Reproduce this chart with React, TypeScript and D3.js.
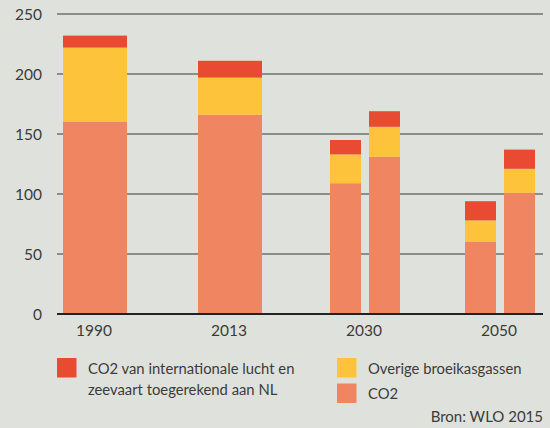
import React, { useRef, useEffect } from 'react';
import * as d3 from 'd3';

// years on the x axis
const years = ['1990', '2013', '2030', '2050'];
// one entry per bar (2030 and 2050 have two scenarios)
const barYear = ['1990', '2013', '2030', '2030', '2050', '2050'];
const barSlot = [0, 0, 0, 1, 0, 1];
// stacked values (Mton CO2-eq)
const co2 = [160, 166, 109, 131, 60, 101];
const overige = [62, 31, 24, 25, 18, 20];
const internationaal = [10, 14, 12, 13, 16, 16];
const yTicks = [0, 50, 100, 150, 200, 250];

const keys = ['co2', 'overige', 'internationaal'];
const colors: Record<string, string> = {
  co2: '#f08562',
  overige: '#fdc33a',
  internationaal: '#e84b32',
};

const FONT = 'Lato, "Open Sans", sans-serif';
const TEXT = '#3b3b3b';

const App = () => {
  const chartRef = useRef<SVGSVGElement>(null);

  useEffect(() => {
    const width = 550;
    const height = 428;

    const svg = d3.select(chartRef.current);
    svg.selectAll('*').remove();

    //background
    svg.append('rect')
      .attr('width', width)
      .attr('height', height)
      .attr('fill', '#dfe2dc');

    const rows = barYear.map((year, i) => ({
      year,
      slot: barSlot[i],
      n: barYear.filter(y => y === year).length,
      co2: co2[i],
      overige: overige[i],
      internationaal: internationaal[i],
    }));

    //scales
    const x = d3.scaleBand().domain(years).range([27.5, 567.5]).padding(0);
    const single = d3.scaleBand().domain(['0']).range([-32, 32]).padding(0);
    const pair = d3.scaleBand().domain(['0', '1']).range([-35, 35]).paddingInner(0.205).paddingOuter(0);
    const y = d3.scaleLinear().domain([0, 250]).range([314, 14]);

    //gridlines
    svg.append('g')
      .selectAll('line')
      .data(yTicks.filter(t => t > 0))
      .join('line')
      .attr('x1', 57)
      .attr('x2', 543)
      .attr('y1', d => y(d))
      .attr('y2', d => y(d))
      .attr('stroke', '#6f726e')
      .attr('stroke-width', 1.3);

    //y labels
    svg.append('g')
      .selectAll('text')
      .data(yTicks)
      .join('text')
      .attr('x', 42)
      .attr('y', d => y(d))
      .attr('dy', '0.36em')
      .attr('text-anchor', 'end')
      .style('font-family', FONT)
      .style('font-size', '15.5px')
      .style('fill', TEXT)
      .text(d => d);

    //stacked bars
    const stacked = d3.stack<any>().keys(keys)(rows);
    const barX = (d: any) => {
      const inner = d.data.n === 1 ? single : pair;
      return (x(d.data.year) as number) + x.bandwidth() / 2 + (inner(String(d.data.slot)) as number);
    };
    const barW = (d: any) => (d.data.n === 1 ? single : pair).bandwidth();

    svg.append('g')
      .selectAll('g')
      .data(stacked)
      .join('g')
      .attr('fill', d => colors[d.key])
      .selectAll('rect')
      .data(d => d)
      .join('rect')
      .attr('x', d => barX(d))
      .attr('width', d => barW(d))
      .attr('y', d => y(d[1]))
      .attr('height', d => y(d[0]) - y(d[1]));

    //baseline
    svg.append('line')
      .attr('x1', 57)
      .attr('x2', 543)
      .attr('y1', y(0))
      .attr('y2', y(0))
      .attr('stroke', '#222')
      .attr('stroke-width', 2);

    //x labels
    svg.append('g')
      .selectAll('text')
      .data(years)
      .join('text')
      .attr('x', d => (x(d) as number) + x.bandwidth() / 2 - 1)
      .attr('y', 336)
      .attr('text-anchor', 'middle')
      .style('font-family', FONT)
      .style('font-size', '15.5px')
      .style('fill', TEXT)
      .text(d => d);

    //legend
    const legend = [
      { key: 'internationaal', x: 57, y: 358, lines: ['CO2 van internationale lucht en', 'zeevaart toegerekend aan NL'] },
      { key: 'overige', x: 337, y: 358, lines: ['Overige broeikasgassen'] },
      { key: 'co2', x: 337, y: 383.5, lines: ['CO2'] },
    ];
    const lg = svg.append('g').selectAll('g').data(legend).join('g');
    lg.append('rect')
      .attr('x', d => d.x)
      .attr('y', d => d.y)
      .attr('width', 19.5)
      .attr('height', 19.5)
      .attr('fill', d => colors[d.key]);
    lg.each(function (d) {
      d3.select(this)
        .selectAll('text')
        .data(d.lines)
        .join('text')
        .attr('x', d.x + 31)
        .attr('y', (_, i) => d.y + 15.5 + i * 21.5)
        .style('font-family', FONT)
        .style('font-size', '14.8px')
        .style('fill', TEXT)
        .text(t => t);
    });

    //source
    svg.append('text')
      .attr('x', 543)
      .attr('y', 421.5)
      .attr('text-anchor', 'end')
      .style('font-family', FONT)
      .style('font-size', '15px')
      .style('fill', TEXT)
      .text('Bron: WLO 2015');
  }, []);

  return (
    <svg
      ref={chartRef}
      width={550}
      height={428}
      style={{ position: 'absolute', left: 0, top: 0 }}
    ></svg>
  );
};

export default App;
